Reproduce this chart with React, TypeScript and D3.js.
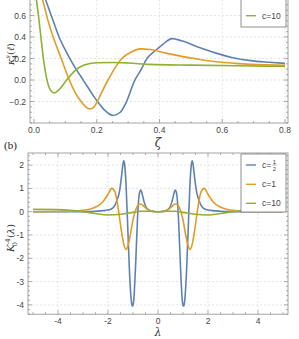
import { useEffect, useRef } from 'react'
import * as d3 from 'd3'

// panel (a): cumulant vs zeta
const zetaHalf = [0, 0.02, 0.038, 0.06, 0.08, 0.105, 0.13, 0.15, 0.17, 0.19, 0.205, 0.225, 0.252, 0.275, 0.295, 0.32, 0.34, 0.36, 0.385, 0.41, 0.44, 0.47, 0.52, 0.58, 0.63, 0.69, 0.75, 0.8]
const kHalf = [1.05, 0.9, 0.74, 0.56, 0.4, 0.25, 0.12, 0.03, -0.06, -0.15, -0.21, -0.28, -0.33, -0.3, -0.2, -0.01, 0.09, 0.2, 0.27, 0.33, 0.385, 0.365, 0.31, 0.25, 0.21, 0.18, 0.165, 0.155]
const zetaOne = [0, 0.015, 0.028, 0.045, 0.061, 0.075, 0.088, 0.109, 0.13, 0.15, 0.165, 0.178, 0.19, 0.2, 0.215, 0.236, 0.26, 0.28, 0.31, 0.34, 0.37, 0.42, 0.47, 0.52, 0.58, 0.64, 0.69, 0.8]
const kOne = [1.0, 0.87, 0.74, 0.55, 0.4, 0.29, 0.19, 0.025, -0.11, -0.2, -0.25, -0.27, -0.255, -0.21, -0.12, 0.0, 0.12, 0.2, 0.26, 0.29, 0.283, 0.25, 0.22, 0.195, 0.17, 0.155, 0.146, 0.137]
const zetaTen = [0, 0.008, 0.015, 0.022, 0.03, 0.04, 0.05, 0.065, 0.08, 0.104, 0.13, 0.16, 0.2, 0.25, 0.3, 0.37, 0.5, 0.65, 0.8]
const kTen = [0.95, 0.74, 0.58, 0.4, 0.2, 0.02, -0.08, -0.12, -0.09, 0.0, 0.085, 0.14, 0.16, 0.163, 0.158, 0.145, 0.138, 0.132, 0.128]

// panel (b): kernel vs lambda
const lamHalf = [-5, -4, -3, -2.5, -2, -1.8, -1.66, -1.53, -1.45, -1.4, -1.37, -1.33, -1.28, -1.22, -1.14, -1.06, -1.02, -0.98, -0.9, -0.82, -0.75, -0.69, -0.62, -0.55, -0.45, -0.3, -0.15, 0, 0.15, 0.3, 0.45, 0.55, 0.62, 0.69, 0.75, 0.82, 0.9, 0.98, 1.02, 1.06, 1.14, 1.22, 1.28, 1.33, 1.37, 1.4, 1.45, 1.53, 1.66, 1.8, 2, 2.5, 3, 4, 5]
const bHalf = [0, 0, 0.005, 0.02, 0.07, 0.16, 0.43, 0.93, 1.6, 2.05, 2.19, 2.0, 1.2, -0.4, -2.6, -3.9, -4.05, -3.9, -2.4, -0.3, 0.75, 0.93, 0.7, 0.4, 0.15, 0.04, 0.01, 0, 0.01, 0.04, 0.15, 0.4, 0.7, 0.93, 0.75, -0.3, -2.4, -3.9, -4.05, -3.9, -2.6, -0.4, 1.2, 2.0, 2.19, 2.05, 1.6, 0.93, 0.43, 0.16, 0.07, 0.02, 0.005, 0, 0]
const lamOne = [-5, -4, -3.3, -3, -2.7, -2.47, -2.2, -2, -1.85, -1.72, -1.6, -1.48, -1.38, -1.29, -1.2, -1.1, -1, -0.9, -0.78, -0.68, -0.55, -0.4, -0.2, 0, 0.2, 0.4, 0.55, 0.68, 0.78, 0.9, 1, 1.1, 1.2, 1.29, 1.38, 1.48, 1.6, 1.72, 1.85, 2, 2.2, 2.47, 2.7, 3, 3.3, 4, 5]
const bOne = [0, 0.01, 0.03, 0.06, 0.12, 0.21, 0.43, 0.75, 1.0, 0.85, 0.2, -0.7, -1.35, -1.62, -1.45, -0.95, -0.35, 0.05, 0.3, 0.33, 0.22, 0.08, 0.01, 0, 0.01, 0.08, 0.22, 0.33, 0.3, 0.05, -0.35, -0.95, -1.45, -1.62, -1.35, -0.7, 0.2, 0.85, 1.0, 0.75, 0.43, 0.21, 0.12, 0.06, 0.03, 0.01, 0]
const lamTen = [-5, -4, -3.5, -3, -2.5, -2, -1.5, -1, -0.7, -0.35, 0, 0.35, 0.7, 1, 1.5, 2, 2.5, 3, 3.5, 4, 5]
const bTen = [0.1, 0.09, 0.06, 0.0, -0.08, -0.14, -0.11, -0.03, 0.02, 0.02, 0.0, 0.02, 0.02, -0.03, -0.11, -0.14, -0.08, 0.0, 0.06, 0.09, 0.1]

const topXTicks = [0, 0.2, 0.4, 0.6, 0.8]
const topYTicks = [-0.2, 0, 0.2, 0.4, 0.6, 0.8, 1.0]
const topYLabels = [-0.2, 0, 0.2, 0.4, 0.6] // higher ones sit above the cropped edge
const botXTicks = [-4, -2, 0, 2, 4]
const botYTicks = [-4, -3, -2, -1, 0, 1, 2]

const colors = ['#5E81B5', '#E19C24', '#8FB032']
const FONT = '"Liberation Sans", Arial, sans-serif'

type Series = { xs: number[]; ys: number[] }
type Svg = d3.Selection<SVGSVGElement, unknown, null, undefined>

function drawPanel(
  svg: Svg,
  id: string,
  box: { left: number; right: number; top: number; bottom: number },
  xDomain: [number, number],
  yDomain: [number, number],
  xTicks: number[],
  yTicks: number[],
  yLabels: number[],
  xMinor: number,
  yMinor: number,
  xFmt: (v: number) => string,
  yFmt: (v: number) => string,
  series: Series[]
) {
  const x = d3.scaleLinear().domain(xDomain).range([box.left, box.right])
  const y = d3.scaleLinear().domain(yDomain).range([box.bottom, box.top])
  const g = svg.append('g')

  svg
    .append('clipPath')
    .attr('id', id)
    .append('rect')
    .attr('x', box.left)
    .attr('y', box.top)
    .attr('width', box.right - box.left)
    .attr('height', box.bottom - box.top)

  // grid
  g.selectAll('.gx')
    .data(xTicks)
    .join('line')
    .attr('x1', (d) => x(d))
    .attr('x2', (d) => x(d))
    .attr('y1', box.top)
    .attr('y2', box.bottom)
    .attr('stroke', '#d8d8d8')
    .attr('stroke-width', 0.7)
    .attr('stroke-dasharray', '2,2')
  g.selectAll('.gy')
    .data(yTicks)
    .join('line')
    .attr('x1', box.left)
    .attr('x2', box.right)
    .attr('y1', (d) => y(d))
    .attr('y2', (d) => y(d))
    .attr('stroke', '#d8d8d8')
    .attr('stroke-width', 0.7)
    .attr('stroke-dasharray', '2,2')

  // curves
  const line = d3
    .line<[number, number]>()
    .x((d) => x(d[0]))
    .y((d) => y(d[1]))
    .curve(d3.curveMonotoneX)
  const cg = g.append('g').attr('clip-path', `url(#${id})`)
  series.forEach((s, i) => {
    cg.append('path')
      .attr('d', line(s.xs.map((v, j) => [v, s.ys[j]] as [number, number])))
      .attr('fill', 'none')
      .attr('stroke', colors[i])
      .attr('stroke-width', 1.6)
  })

  // frame
  g.append('rect')
    .attr('x', box.left)
    .attr('y', box.top)
    .attr('width', box.right - box.left)
    .attr('height', box.bottom - box.top)
    .attr('fill', 'none')
    .attr('stroke', '#8c8c8c')
    .attr('stroke-width', 0.8)

  // ticks on all sides
  const xm = d3.range(Math.ceil(xDomain[0] / xMinor) * xMinor, xDomain[1] + 1e-9, xMinor)
  const ym = d3.range(Math.ceil(yDomain[0] / yMinor) * yMinor, yDomain[1] + 1e-9, yMinor)
  const isMajor = (v: number, arr: number[]) => arr.some((t) => Math.abs(t - v) < 1e-6)
  const tk = g.append('g').attr('stroke', '#8c8c8c').attr('stroke-width', 0.7)
  xm.forEach((v) => {
    const len = isMajor(v, xTicks) ? 4 : 2
    tk.append('line').attr('x1', x(v)).attr('x2', x(v)).attr('y1', box.bottom).attr('y2', box.bottom - len)
    tk.append('line').attr('x1', x(v)).attr('x2', x(v)).attr('y1', box.top).attr('y2', box.top + len)
  })
  ym.forEach((v) => {
    const len = isMajor(v, yTicks) ? 4 : 2
    tk.append('line').attr('y1', y(v)).attr('y2', y(v)).attr('x1', box.left).attr('x2', box.left + len)
    tk.append('line').attr('y1', y(v)).attr('y2', y(v)).attr('x1', box.right).attr('x2', box.right - len)
  })

  g.selectAll('.xl')
    .data(xTicks)
    .join('text')
    .attr('x', (d) => x(d))
    .attr('y', box.bottom + 10)
    .attr('text-anchor', 'middle')
    .attr('font-family', FONT)
    .attr('font-size', 8.5)
    .attr('fill', '#444')
    .text(xFmt)
  g.selectAll('.yl')
    .data(yLabels)
    .join('text')
    .attr('x', box.left - 4)
    .attr('y', (d) => y(d) + 3)
    .attr('text-anchor', 'end')
    .attr('font-family', FONT)
    .attr('font-size', 8.5)
    .attr('fill', '#444')
    .text(yFmt)
}

function legend(svg: Svg, x0: number, y0: number, y1: number, rows: number[]) {
  const g = svg.append('g')
  g.append('rect')
    .attr('x', x0)
    .attr('y', y0)
    .attr('width', 45)
    .attr('height', y1 - y0)
    .attr('fill', 'white')
    .attr('stroke', '#777')
    .attr('stroke-width', 0.8)
  const labels = ['', 'c=1', 'c=10']
  rows.forEach((ry, i) => {
    g.append('line')
      .attr('x1', x0 + 5)
      .attr('x2', x0 + 15)
      .attr('y1', ry)
      .attr('y2', ry)
      .attr('stroke', colors[i])
      .attr('stroke-width', 1.4)
    if (i === 0) {
      g.append('text')
        .attr('x', x0 + 21)
        .attr('y', ry + 3)
        .attr('font-family', FONT)
        .attr('font-size', 8.5)
        .attr('fill', '#444')
        .text('c=')
      g.append('text').attr('x', x0 + 33.5).attr('y', ry - 1).attr('text-anchor', 'middle')
        .attr('font-family', FONT).attr('font-size', 6).attr('fill', '#444').text('1')
      g.append('line').attr('x1', x0 + 31.5).attr('x2', x0 + 35.5).attr('y1', ry).attr('y2', ry)
        .attr('stroke', '#444').attr('stroke-width', 0.5)
      g.append('text').attr('x', x0 + 33.5).attr('y', ry + 5.5).attr('text-anchor', 'middle')
        .attr('font-family', FONT).attr('font-size', 6).attr('fill', '#444').text('2')
    } else {
      g.append('text')
        .attr('x', x0 + 21)
        .attr('y', ry + 3)
        .attr('font-family', FONT)
        .attr('font-size', 8.5)
        .attr('fill', '#444')
        .text(labels[i])
    }
  })
}

export default function App() {
  const ref = useRef<SVGSVGElement>(null)

  useEffect(() => {
    const svg = d3.select(ref.current as SVGSVGElement)
    svg.selectAll('*').remove()

    drawPanel(
      svg, 'clipA',
      { left: 30, right: 288, top: -40.4, bottom: 123 },
      [-0.0127, 0.8095], [-0.4, 1.12],
      topXTicks, topYTicks, topYLabels, 0.05, 0.05,
      d3.format('.1f'), d3.format('.1f'),
      [
        { xs: zetaHalf, ys: kHalf },
        { xs: zetaOne, ys: kOne },
        { xs: zetaTen, ys: kTen },
      ]
    )
    drawPanel(
      svg, 'clipB',
      { left: 28, right: 288, top: 153, bottom: 314.2 },
      [-5.2, 5.2], [-4.4, 2.52],
      botXTicks, botYTicks, botYTicks, 0.5, 0.2,
      (v) => String(v), (v) => String(v),
      [
        { xs: lamHalf, ys: bHalf },
        { xs: lamOne, ys: bOne },
        { xs: lamTen, ys: bTen },
      ]
    )

    legend(svg, 241, -36, 27, [-22, -3, 15.7])
    legend(svg, 241, 154, 212, [165, 184.3, 203.3])

    // axis labels
    svg.append('text').attr('x', 158).attr('y', 147).attr('text-anchor', 'middle')
      .attr('font-family', '"DejaVu Serif", serif').attr('font-style', 'italic').attr('font-size', 12)
      .attr('fill', '#333').text('ζ')
    svg.append('text').attr('x', 158).attr('y', 336).attr('text-anchor', 'middle')
      .attr('font-family', '"DejaVu Serif", serif').attr('font-style', 'italic').attr('font-size', 11)
      .attr('fill', '#333').text('λ')
    svg.append('text').attr('x', 4).attr('y', 149)
      .attr('font-family', '"Liberation Serif", serif').attr('font-size', 11)
      .attr('fill', '#222').text('(b)')

    const ya = svg.append('text').attr('transform', 'translate(14,54) rotate(-90)')
      .attr('text-anchor', 'middle').attr('font-family', '"DejaVu Serif", serif')
      .attr('font-size', 10).attr('fill', '#333')
    ya.append('tspan').attr('font-style', 'italic').text('κ')
    ya.append('tspan').attr('font-size', 6.5).attr('dy', -4).attr('font-style', 'italic').text('s')
    ya.append('tspan').attr('font-size', 6.5).attr('dx', -4).attr('dy', 7).text('4')
    ya.append('tspan').attr('dy', -3).text('(')
    ya.append('tspan').attr('font-style', 'italic').text('ℓ')
    ya.append('tspan').text(')')

    const yb = svg.append('text').attr('transform', 'translate(14,238) rotate(-90)')
      .attr('text-anchor', 'middle').attr('font-family', '"DejaVu Serif", serif')
      .attr('font-size', 10).attr('fill', '#333')
    yb.append('tspan').attr('font-style', 'italic').text('K')
    yb.append('tspan').attr('font-size', 6.5).attr('dy', -4).text('-4')
    yb.append('tspan').attr('font-size', 6.5).attr('dx', -8).attr('dy', 7).text('0')
    yb.append('tspan').attr('dx', 4).attr('dy', -3).text('(')
    yb.append('tspan').attr('font-style', 'italic').text('λ')
    yb.append('tspan').text(')')
  }, [])

  return (
    <div style={{ position: 'fixed', left: 0, top: 0, background: 'white' }}>
      <svg ref={ref} width={299} height={339} style={{ display: 'block' }} />
    </div>
  )
}
